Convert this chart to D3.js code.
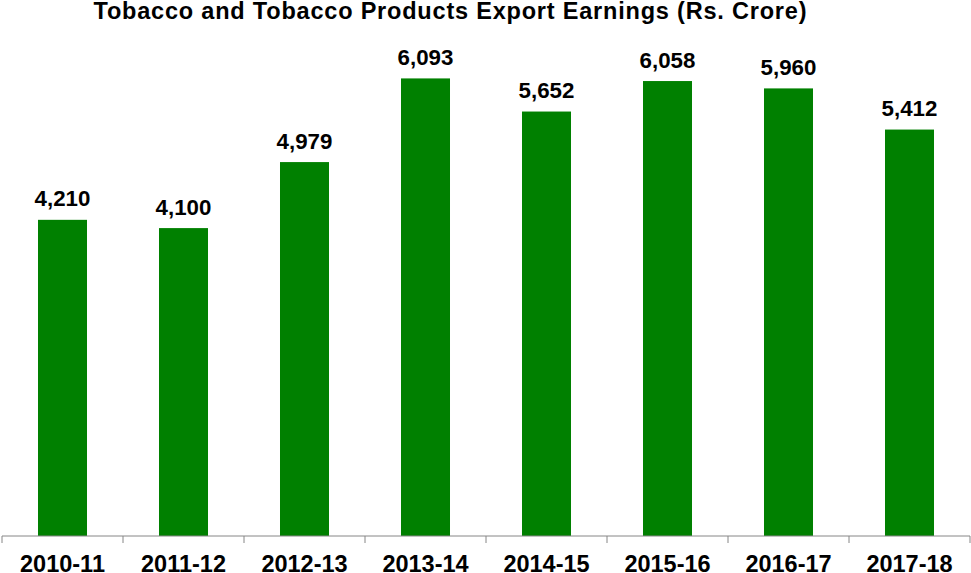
<!DOCTYPE html>
<html><head><meta charset="utf-8">
<script src="https://cdn.jsdelivr.net/npm/d3@7"></script>
<style>body{margin:0;background:#fff}svg{display:block}</style>
</head><body>
<script>
const categories = ["2010-11","2011-12","2012-13","2013-14","2014-15","2015-16","2016-17","2017-18"];
const values = [4210,4100,4979,6093,5652,6058,5960,5412];
const title = "Tobacco and Tobacco Products Export Earnings (Rs. Crore)";

const W = 971, H = 573;
const svg = d3.select("body").append("svg").attr("width", W).attr("height", H);
const font = "'Liberation Sans', Arial, sans-serif";

const x = d3.scaleBand().domain(categories).range([2, 970]).paddingInner(0.595).paddingOuter(0.2975);
const y = d3.scaleLinear().domain([0, 7000]).range([536, 10.3]);

const ls = 0.8;
svg.append("text").attr("x", 450 + ls/2).attr("y", 19).attr("text-anchor","middle")
  .attr("font-family", font).attr("font-weight","bold").attr("font-size", 23.5)
  .attr("letter-spacing", ls).attr("fill","#000").text(title);

svg.selectAll("rect.bar").data(values).join("rect").attr("class","bar")
  .attr("x", (d,i)=>x(categories[i])).attr("width", x.bandwidth())
  .attr("y", d=>y(d)).attr("height", d=>y(0)-y(d)).attr("fill","#008000");

svg.selectAll("text.lab").data(values).join("text").attr("class","lab")
  .attr("x", (d,i)=>x(categories[i])+x.bandwidth()/2).attr("y", d=>y(d)-13.5)
  .attr("text-anchor","middle").attr("font-family", font).attr("font-weight","bold")
  .attr("font-size", 22.3).attr("fill","#000").text(d=>d3.format(",")(d));

// axis
const ax = svg.append("g");
ax.append("line").attr("x1",2).attr("x2",970).attr("y1",536).attr("y2",536).attr("stroke","#868686").attr("stroke-width",1);
const bounds = d3.range(categories.length+1).map(i=>2 + i*x.step());
ax.selectAll("line.t").data(bounds).join("line").attr("class","t")
  .attr("x1",d=>d).attr("x2",d=>d).attr("y1",536).attr("y2",543).attr("stroke","#868686");
ax.selectAll("text.cat").data(categories).join("text").attr("class","cat")
  .attr("x", c=>x(c)+x.bandwidth()/2).attr("y", 571.5)
  .attr("text-anchor","middle").attr("font-family", font).attr("font-weight","bold")
  .attr("font-size", 23.5).attr("fill","#000").text(c=>c);
</script>
</body></html>
